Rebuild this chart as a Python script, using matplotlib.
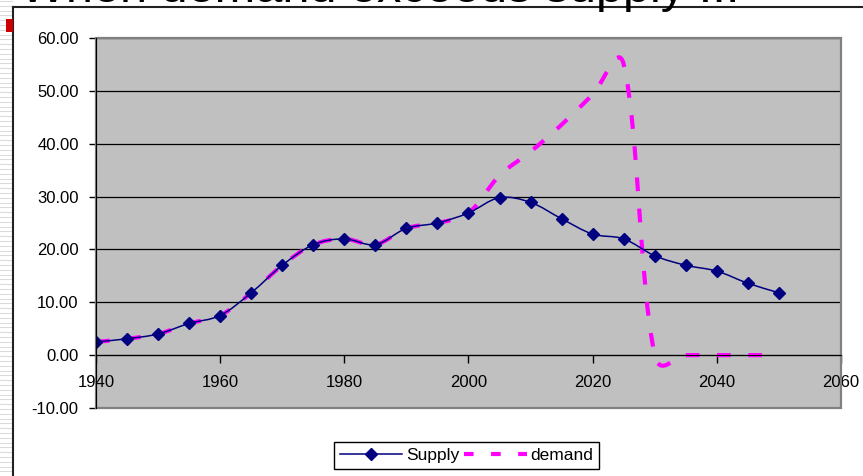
import numpy as np
import matplotlib
matplotlib.use("Agg")
import matplotlib.pyplot as plt
from matplotlib.path import Path
from matplotlib.patches import PathPatch, Rectangle
from matplotlib.lines import Line2D

plt.rcParams["font.family"] = ["Liberation Sans", "DejaVu Sans"]

years = list(range(1940, 2055, 5))
supply = [2.5, 3.1, 4.0, 6.0, 7.5, 11.8, 17.0, 20.9, 22.0, 20.9, 24.0, 25.0,
          26.9, 29.8, 28.9, 25.8, 22.9, 22.0, 18.8, 17.0, 15.9, 13.6, 11.8]
demand = [2.5, 3.1, 4.0, 6.0, 7.5, 11.8, 17.0, 20.9, 22.0, 20.9, 24.0, 25.0,
          26.9, 34.0, 38.5, 43.6, 49.3, 55.0, 0.0, 0.0, 0.0, 0.0, 0.0]
xticks = [1940, 1960, 1980, 2000, 2020, 2040, 2060]
yticks = [-10, 0, 10, 20, 30, 40, 50, 60]
title = "When demand exceeds supply ..."

W, H = 863, 476
NAVY = "#000080"
MAGENTA = "#FF00FF"


def fx(px):
    return px / W


def fy(py):
    return 1 - py / H


def smooth_path(ax, xs, ys, k=1 / 3):
    # excel-ish smoothed line: cubic bezier through the points, built in pixel space
    pts = ax.transData.transform(np.column_stack([xs, ys]))
    n = len(pts)
    verts = [pts[0]]
    codes = [Path.MOVETO]
    for i in range(n - 1):
        p0, p1 = pts[max(i - 1, 0)], pts[i]
        p2, p3 = pts[i + 1], pts[min(i + 2, n - 1)]
        d01 = np.hypot(*(p1 - p0)) ** 0.5
        d12 = np.hypot(*(p2 - p1)) ** 0.5
        d23 = np.hypot(*(p3 - p2)) ** 0.5
        c1 = p1 + (p2 - p0) * k * d12 / (d01 + d12)
        c2 = p2 - (p3 - p1) * k * d12 / (d12 + d23)
        verts += [c1, c2, p2]
        codes += [Path.CURVE4] * 3
    verts = ax.transData.inverted().transform(np.array(verts))
    return Path(verts, codes)


fig = plt.figure(figsize=(W / 100, H / 100), dpi=100)

# slide background bits, kept behind the axes
for y in np.arange(1, H, 4.8):
    fig.add_artist(Line2D([0, fx(12)], [fy(y), fy(y)], color="#dcdcdc", lw=0.8, zorder=-3))
fig.add_artist(Rectangle((fx(12.5), 0), 1, fy(6.5), transform=fig.transFigure,
                         facecolor="white", edgecolor="none", zorder=-2))
fig.add_artist(Line2D([fx(12.7), 1], [fy(6.5), fy(6.5)], color="#222222", lw=1.5, zorder=-1))
fig.add_artist(Line2D([fx(12.7), fx(12.7)], [0, fy(6.5)], color="#222222", lw=1.5, zorder=-1))
fig.add_artist(Rectangle((fx(6), fy(32)), fx(6.5), 13 / H, transform=fig.transFigure,
                         facecolor="#CC0000", edgecolor="none", zorder=-1))
fig.text(fx(20), fy(2.5), title, fontsize=35, va="baseline", ha="left", zorder=-1)

ax = fig.add_axes([fx(96), fy(408), fx(841 - 96), (408 - 38) / H])
ax.set_facecolor("#C0C0C0")
ax.set_xlim(1940, 2060)
ax.set_ylim(-10, 60)

ax.add_patch(PathPatch(smooth_path(ax, years, demand), fill=False, edgecolor=MAGENTA,
                       lw=3.0, linestyle=(0, (3.3, 4.2)), capstyle="butt", zorder=2))
ax.add_patch(PathPatch(smooth_path(ax, years, supply), fill=False, edgecolor=NAVY,
                       lw=1.1, zorder=3))
ax.plot(years, supply, ls="none", marker="D", ms=6.5, color=NAVY, zorder=4)

ax.set_xticks(xticks)
ax.set_yticks(yticks)
ax.set_yticklabels([f"{v:.2f}" for v in yticks])
ax.tick_params(axis="both", labelsize=12, colors="black")
ax.tick_params(axis="y", direction="out", length=5, width=1, pad=7.5)
ax.tick_params(axis="x", direction="out", length=6, width=1, pad=8)

ax.set_axisbelow(True)
ax.yaxis.grid(True, color="black", lw=0.9)
for s in ("top", "right"):
    ax.spines[s].set_visible(False)
ax.spines["bottom"].set_position(("data", 0))
ax.spines["bottom"].set_color("black")
ax.spines["left"].set_color("black")
ax.spines["left"].set_zorder(5)
ax.add_patch(Rectangle((0, 0), 1, 1, transform=ax.transAxes, fill=False,
                       edgecolor="#808080", lw=1.6, clip_on=False, zorder=2.5))

handles = [
    Line2D([], [], color=NAVY, lw=1.1, marker="D", ms=6.5),
    Line2D([], [], color=MAGENTA, lw=3.0, ls=(0, (2.3, 4.2))),
]
leg = fig.legend(handles, ["Supply", "demand"], loc="upper center",
                 bbox_to_anchor=(fx(466.5), fy(441.5)), ncol=2, fontsize=12.5,
                 frameon=True, fancybox=False, edgecolor="black", framealpha=1,
                 handlelength=3.6, handletextpad=0.2, columnspacing=0.3,
                 borderpad=0.35, borderaxespad=0)
leg.get_frame().set_linewidth(1.0)

fig.savefig("out.png", dpi=100)
